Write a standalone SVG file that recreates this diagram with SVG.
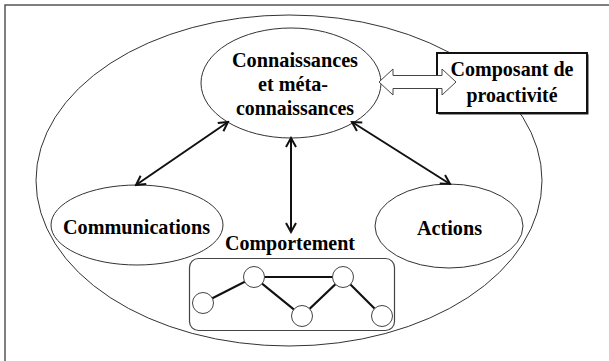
<svg xmlns="http://www.w3.org/2000/svg" width="609" height="361" viewBox="0 0 609 361">
<defs>
<style>
.lbl{font-weight:bold;font-size:21px;fill:#000;text-anchor:middle}
.ell{fill:#fff;stroke:#333;stroke-width:1}
.conn{stroke:#111;stroke-width:2;fill:none}
.gline{stroke:#111;stroke-width:2.2;fill:none}
.gnode{fill:#fff;stroke:#444;stroke-width:1}
</style>
<marker id="ah" viewBox="-11 -7 13 14" refX="0" refY="0" markerWidth="13" markerHeight="14" markerUnits="userSpaceOnUse" orient="auto-start-reverse">
<path d="M-9,-5 L0,0 L-9,5" fill="none" stroke="#111" stroke-width="2"/>
</marker>
</defs>
<rect width="609" height="361" fill="#fff"/>
<path d="M5,361 L5,5 L609,5" fill="none" stroke="#555" stroke-width="1.5"/>
<g id="outer"><ellipse class="ell" cx="289" cy="180.5" rx="253" ry="165.5"/></g>
<g font-family="Liberation Serif, serif">
<g id="connaissances">
<ellipse class="ell" cx="291" cy="83" rx="90" ry="55"/>
<text class="lbl" x="295" y="67" textLength="126" lengthAdjust="spacingAndGlyphs">Connaissances</text>
<text class="lbl" x="293" y="91" textLength="70" lengthAdjust="spacingAndGlyphs">et méta-</text>
<text class="lbl" x="295" y="115" textLength="118" lengthAdjust="spacingAndGlyphs">connaissances</text>
</g>
<g id="proactivite">
<rect x="438.5" y="54.5" width="150" height="60" fill="#222"/>
<rect x="437" y="53" width="150" height="60" fill="#fff" stroke="#111" stroke-width="2"/>
<text class="lbl" x="512" y="76" textLength="123" lengthAdjust="spacingAndGlyphs">Composant de</text>
<text class="lbl" x="512" y="102" textLength="91" lengthAdjust="spacingAndGlyphs">proactivité</text>
</g>
<g id="communications">
<ellipse class="ell" cx="137" cy="225" rx="86" ry="40"/>
<text class="lbl" x="136.5" y="234" textLength="147" lengthAdjust="spacingAndGlyphs">Communications</text>
</g>
<g id="actions">
<ellipse class="ell" cx="449" cy="226" rx="74" ry="42"/>
<text class="lbl" x="449.5" y="235" textLength="65" lengthAdjust="spacingAndGlyphs">Actions</text>
</g>
<g id="comportement">
<text class="lbl" x="290" y="250" textLength="130" lengthAdjust="spacingAndGlyphs">Comportement</text>
<rect x="189.5" y="258.5" width="205" height="72" rx="9" fill="#fff" stroke="#444" stroke-width="1.2"/>
<path class="gline" d="M203,303 L254,277 L343,277 L382,316 M254,277 L302,316 L343,277"/>
<circle class="gnode" cx="203" cy="303" r="10.5"/>
<circle class="gnode" cx="254" cy="277" r="10.5"/>
<circle class="gnode" cx="302" cy="316" r="10.5"/>
<circle class="gnode" cx="343" cy="277" r="10.5"/>
<circle class="gnode" cx="382" cy="316" r="10.5"/>
</g>
</g>
<g id="connectors">
<line class="conn" x1="228" y1="122" x2="136" y2="185" marker-start="url(#ah)" marker-end="url(#ah)"/>
<line class="conn" x1="291" y1="138" x2="291" y2="232" marker-start="url(#ah)" marker-end="url(#ah)"/>
<line class="conn" x1="352" y1="122" x2="450" y2="184" marker-start="url(#ah)" marker-end="url(#ah)"/>
<polygon points="379,82 393,69 393,75.5 442,75.5 442,69 456,82 442,95 442,88.5 393,88.5 393,95" fill="#fff" stroke="#444" stroke-width="1"/>
</g>
</svg>
